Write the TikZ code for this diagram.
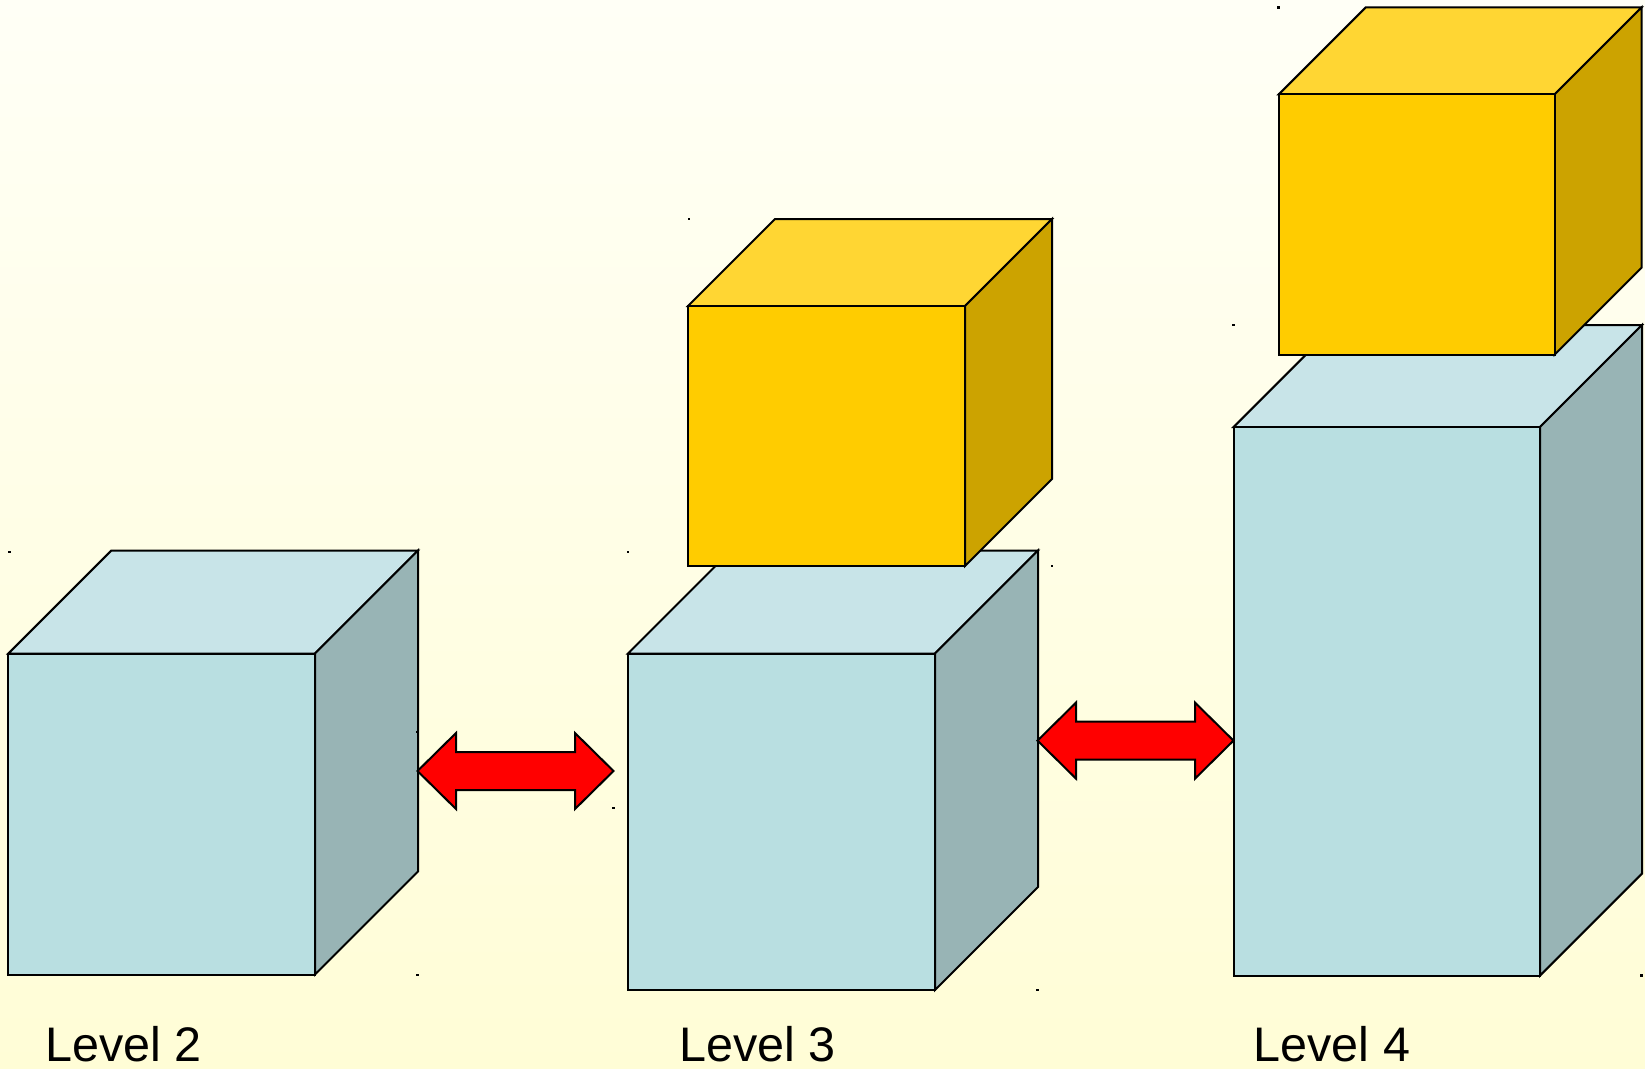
\documentclass[tikz,border=0pt]{standalone}
\usepackage{fontspec}
\setmainfont{Liberation Sans}
\definecolor{bgtop}{HTML}{FFFFF6}
\definecolor{bgbot}{HTML}{FFFDD6}
\definecolor{bfront}{HTML}{B9DFE1}
\definecolor{btop}{HTML}{C8E4E8}
\definecolor{bside}{HTML}{98B4B5}
\definecolor{gfront}{HTML}{FFCC00}
\definecolor{gtop}{HTML}{FFD633}
\definecolor{gside}{HTML}{CCA300}
\newcommand\drawcube[8]{%
  % #1 x1, #2 y1, #3 x2, #4 y2, #5 depth, #6 front, #7 top, #8 side
  \filldraw[fill=#7,edge] (#1,#2) -- ++(#5,-#5) -- (#3+#5,#2-#5) -- (#3,#2) -- cycle;
  \filldraw[fill=#8,edge] (#3,#2) -- (#3+#5,#2-#5) -- (#3+#5,#4-#5) -- (#3,#4) -- cycle;
  \filldraw[fill=#6,edge] (#1,#2) rectangle (#3,#4);
}
\begin{document}
\begin{tikzpicture}[x=1pt,y=-1pt,
  edge/.style={draw=black,line width=2pt,line join=miter},
  dblarrow/.style={fill=red,draw=black,line width=2pt,line join=miter},
  lvl/.style={font=\fontsize{48.5}{52}\selectfont,anchor=base west,inner sep=0pt},
  speck/.style={fill=black}]
\shade[top color=bgtop,bottom color=bgbot] (0,0) rectangle (1645,1068);
\useasboundingbox (0,0) rectangle (1645,1068);
% Level 2
\drawcube{8.4}{653.5}{315}{974.5}{103}{bfront}{btop}{bside}
% Level 3
\drawcube{628}{653.5}{935}{990}{103}{bfront}{btop}{bside}
\drawcube{688}{306}{965}{566}{87}{gfront}{gtop}{gside}
% Level 4
\drawcube{1233.6}{427}{1540}{975.6}{102}{bfront}{btop}{bside}
\drawcube{1278.7}{94.4}{1554.6}{354.6}{87}{gfront}{gtop}{gside}
% arrows
\coordinate (a1) at (417.5,771);
\filldraw[dblarrow] (a1) -- ++(38.5,-38) -- ++(0,19) -- ++(119,0) -- ++(0,-19)
  -- ++(38.5,38) -- ++(-38.5,38) -- ++(0,-19) -- ++(-119,0) -- ++(0,19) -- cycle;
\coordinate (a2) at (1037.5,740.6);
\filldraw[dblarrow] (a2) -- ++(38.5,-38) -- ++(0,19) -- ++(119,0) -- ++(0,-19)
  -- ++(38.5,38) -- ++(-38.5,38) -- ++(0,-19) -- ++(-119,0) -- ++(0,19) -- cycle;
% labels
\node[lvl] (l2) at (45,1061) {Level 2};
\node[lvl] (l3) at (679,1061) {Level 3};
\node[lvl] (l4) at (1253.5,1061) {Level 4};
% small specks
\foreach \p in {(9.5,552),(628,552),(689,219),(1052,566),(1278.7,7.5),(1233.6,325),(417.7,975),(1037.5,990),(613.7,808),(1641.7,975.6),(417.5,732)}
  \fill[speck] \p ++(-1.3,-1.3) rectangle ++(2.6,2.6);
\end{tikzpicture}
\end{document}
